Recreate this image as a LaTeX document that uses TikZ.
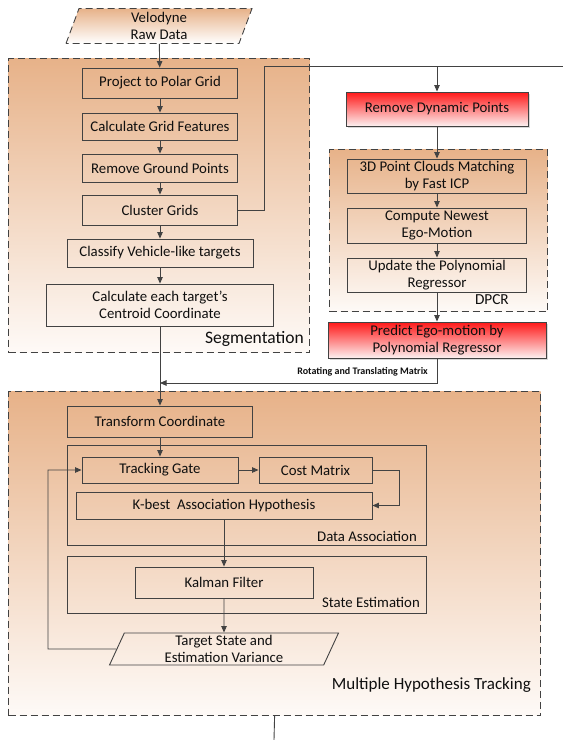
\documentclass[tikz,border=0pt]{standalone}
\usepackage{fontspec}
\setmainfont{Carlito}
\usepackage{tikz}
\usetikzlibrary{shapes.geometric, arrows.meta, shadows}
\definecolor{mytan}{RGB}{231,178,137}
\definecolor{mypale}{RGB}{254,250,247}
\definecolor{myred}{RGB}{255,24,24}
\definecolor{mypink}{RGB}{252,240,240}
\definecolor{mydark}{RGB}{66,66,66}
\definecolor{mytext}{RGB}{15,15,15}
\tikzset{
  stepbox/.style={rectangle, draw=mydark, line width=0.9pt, inner sep=0pt,
    text=mytext, align=center, font=\fontsize{14.8}{17.5}\selectfont},
  redbox/.style={stepbox, top color=myred, bottom color=mypink,
    drop shadow={shadow xshift=1.5pt, shadow yshift=-1.5pt, fill=black!30}},
  groupbox/.style={rectangle, draw=mydark, line width=1.2pt,
    dash pattern=on 7pt off 4pt, top color=mytan, bottom color=mypale,
    anchor=north west, inner sep=0pt},
  subgroup/.style={rectangle, draw=mydark, line width=0.9pt,
    anchor=north west, inner sep=0pt},
  databox/.style={trapezium, trapezium stretches body=true, draw=mydark,
    line width=0.9pt, inner sep=0pt, text=mytext, align=center,
    font=\fontsize{14.8}{17.5}\selectfont},
  grouplabel/.style={anchor=east, inner sep=0pt, text=mytext,
    font=\fontsize{14.8}{17}\selectfont},
  arrow/.style={-{Triangle[length=6.5pt, width=5.5pt]}, line width=0.9pt, color=mydark},
  line/.style={line width=0.9pt, color=mydark}
}

\begin{document}
\begin{tikzpicture}[x=1pt, y=-1pt]
  \useasboundingbox (0,0) rectangle (563,740);

  % Group frames
  \node[groupbox, minimum width=301, minimum height=294] (seg) at (8,58) {};
  \node[groupbox, minimum width=218, minimum height=162] (dpcr) at (329,149) {};
  \node[groupbox, minimum width=532, minimum height=324] (mht) at (8,391) {};
  \node[subgroup, minimum width=359, minimum height=100] (assoc) at (67,445) {};
  \node[subgroup, minimum width=359, minimum height=57] (estim) at (67,556) {};

  % Input data
  \node[databox, dashed, dash pattern=on 7pt off 4pt, top color=mytan, bottom color=white,
    trapezium left angle=65, trapezium right angle=115,
    minimum width=186, minimum height=35] (velo) at (159,26) {Velodyne\\Raw Data};

  % Segmentation
  \node[stepbox, minimum width=155, minimum height=30] (proj) at (160,83) {Project to Polar Grid};
  \node[stepbox, minimum width=155, minimum height=27] (feat) at (160,126.5) {Calculate Grid Features};
  \node[stepbox, minimum width=155, minimum height=28] (ground) at (160,168) {Remove Ground Points};
  \node[stepbox, minimum width=155, minimum height=30] (cluster) at (160,210) {Cluster Grids};
  \node[stepbox, minimum width=186, minimum height=28] (classify) at (160,253) {Classify Vehicle-like targets};
  \node[stepbox, minimum width=227, minimum height=42] (centroid) at (160,305) {Calculate each target's\\Centroid Coordinate};
  \node[grouplabel, font=\fontsize{17.5}{20}\selectfont] (seglabel) at (304,339) {Segmentation};

  % Ego-motion (DPCR)
  \node[redbox, minimum width=182, minimum height=34] (remdyn) at (437,109) {Remove Dynamic Points};
  \node[stepbox, minimum width=179, minimum height=34] (icp) at (437,176) {3D Point Clouds Matching\\by Fast ICP};
  \node[stepbox, minimum width=179, minimum height=35] (ego) at (437,225.5) {Compute Newest\\Ego-Motion};
  \node[stepbox, minimum width=179, minimum height=34] (update) at (437,275) {Update the Polynomial\\Regressor};
  \node[grouplabel, font=\fontsize{15.3}{17}\selectfont] (dpcrlabel) at (509,300) {DPCR};
  \node[redbox, minimum width=218, minimum height=36] (predict) at (437,340) {Predict Ego-motion by\\Polynomial Regressor};
  \node[grouplabel, font=\fontsize{10}{12}\selectfont\bfseries] (matlabel) at (428,372) {Rotating and Translating Matrix};

  % Multiple Hypothesis Tracking
  \node[stepbox, minimum width=185, minimum height=31] (transf) at (160,421.5) {Transform Coordinate};
  \node[stepbox, minimum width=156, minimum height=26] (gate) at (160,470) {Tracking Gate};
  \node[stepbox, minimum width=113, minimum height=26] (cost) at (315.5,470) {Cost Matrix};
  \node[stepbox, minimum width=296, minimum height=27] (kbest) at (224,505.5) {K-best\ \ Association Hypothesis};
  \node[grouplabel] (assoclabel) at (417,536) {Data Association};
  \node[stepbox, minimum width=178, minimum height=31] (kalman) at (224,582.5) {Kalman Filter};
  \node[grouplabel] (estimlabel) at (420,602) {State Estimation};
  \node[databox, trapezium left angle=62, trapezium right angle=118,
    minimum width=229, minimum height=32] (target) at (224,649) {Target State and\\Estimation Variance};
  \node[grouplabel, font=\fontsize{17}{20}\selectfont] (mhtlabel) at (531,685) {Multiple Hypothesis Tracking};

  % Free ends and bends
  \coordinate (bend) at (264,66);
  \coordinate (exit) at (563,66);
  \coordinate (tap) at (437,66);
  \coordinate (join) at (160,383);
  \coordinate (loop) at (48,649);
  \coordinate (down) at (274,740);

  % Segmentation flow
  \draw[arrow] (velo) -- (proj);
  \draw[arrow] (proj) -- (feat);
  \draw[arrow] (feat) -- (ground);
  \draw[arrow] (ground) -- (cluster);
  \draw[arrow] (cluster) -- (classify);
  \draw[arrow] (classify) -- (centroid);
  \draw[line] (cluster.east) -| (bend) -- (exit);

  % Ego-motion flow
  \draw[arrow] (tap) -- (remdyn);
  \draw[arrow] (remdyn) -- (icp);
  \draw[arrow] (icp) -- (ego);
  \draw[arrow] (ego) -- (update);
  \draw[arrow] (update) -- (predict);
  \draw[arrow] (predict.south) |- (join);

  % Tracking flow
  \draw[arrow] (centroid) -- (transf);
  \draw[arrow] (transf) -- (gate);
  \draw[arrow] (gate) -- (cost);
  \draw[arrow] (cost.east) -- ++(27,0) |- (kbest.east);
  \draw[arrow] (kbest) -- (kalman);
  \draw[arrow] (kalman) -- (target);
  \draw[arrow] (target.west) -- (loop) |- (gate.west);
  \draw[line] (mht.south) -- (down);
\end{tikzpicture}
\end{document}
